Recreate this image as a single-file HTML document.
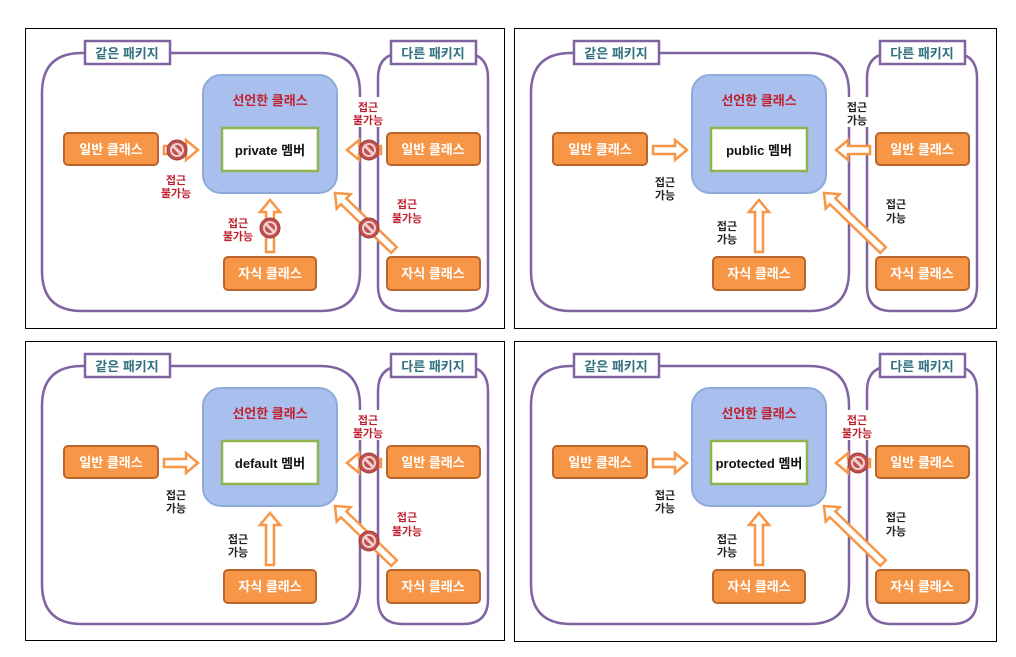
<!DOCTYPE html>
<html><head><meta charset="utf-8"><style>
body{margin:0;background:#fff;}
svg{display:block;font-family:"Liberation Sans","Noto Sans CJK KR",sans-serif;font-weight:bold;}
.frame{fill:none;stroke:#000;stroke-width:1}
.pkg{fill:#fff;stroke:#8064a2;stroke-width:2.5}
.lbl{fill:#fff;stroke:#8064a2;stroke-width:2.5}
.lt{fill:#31707f;font-size:13px;text-anchor:middle}
.dc{fill:#a9c0ef;stroke:#8eaadb;stroke-width:2}
.mb{fill:#fff;stroke:#8fb44f;stroke-width:2.5}
.ob{fill:#f79646;stroke:#b9652b;stroke-width:2}
.ot{fill:#fff;font-size:13px;text-anchor:middle}
.ar{fill:#fff;stroke:#f79646;stroke-width:2.5;stroke-linejoin:miter}
.red{fill:#c0212f;font-size:11px;text-anchor:middle}
.blk{fill:#222;font-size:11px;text-anchor:middle}
.tt{fill:#c0212f;font-size:13px;text-anchor:middle}
.mt{fill:#111;font-size:13px;text-anchor:middle}
</style></head><body>
<svg width="1016" height="657" viewBox="0 0 1016 657">
<defs>
<g id="no"><circle r="10" fill="#c0504d" stroke="#a23b38" stroke-width="1"/><circle r="6" fill="none" stroke="#f2d0cf" stroke-width="2"/><line x1="-4" y1="-4" x2="4" y2="4" stroke="#f2d0cf" stroke-width="3"/></g>
<g id="base">
<path class="pkg" d="M82,53 H320 Q360,53 360,93 V271 Q360,311 320,311 H82 Q42,311 42,271 V93 Q42,53 82,53 Z"/>
<rect class="lbl" x="85" y="41" width="85" height="23"/>
<text class="lt" x="127" y="58">같은 패키지</text>
<path class="pkg" d="M403,53 H463 Q488,53 488,78 V286 Q488,311 463,311 H403 Q378,311 378,286 V78 Q378,53 403,53 Z"/>
<rect class="lbl" x="391" y="41" width="85" height="23"/>
<text class="lt" x="433" y="58">다른 패키지</text>
<rect x="352" y="97" width="32" height="30" fill="#fff"/>
<rect class="dc" x="203" y="75" width="134" height="118" rx="18"/>
<text class="tt" x="270" y="105">선언한 클래스</text>
<rect class="mb" x="222" y="128" width="96" height="43"/>
<rect class="ob" x="64" y="133" width="94" height="32" rx="4"/>
<text class="ot" x="111" y="154">일반 클래스</text>
<rect class="ob" x="387" y="133" width="93" height="32" rx="4"/>
<text class="ot" x="433" y="154">일반 클래스</text>
<rect class="ob" x="224" y="257" width="92" height="33" rx="4"/>
<text class="ot" x="270" y="278">자식 클래스</text>
<rect class="ob" x="387" y="257" width="93" height="33" rx="4"/>
<text class="ot" x="433" y="278">자식 클래스</text>
<polygon class="ar" transform="translate(164,150)" points="0,-4 22,-4 22,-10 34,0 22,10 22,4 0,4"/>
<polygon class="ar" transform="translate(270,252) rotate(-90)" points="0,-4 40,-4 40,-10 52,0 40,10 40,4 0,4"/>
<polygon class="ar" transform="translate(381,150) rotate(180)" points="0,-4 22,-4 22,-10 34,0 22,10 22,4 0,4"/>
<polygon class="ar" transform="translate(394,250) rotate(-136)" points="0,-4 70,-4 70,-10 82,0 70,10 70,4 0,4"/>
</g>
</defs>

<rect class="frame" x="25.5" y="28.5" width="479" height="300"/>
<rect class="frame" x="514.5" y="28.5" width="482" height="300"/>
<rect class="frame" x="25.5" y="341.5" width="479" height="299"/>
<rect class="frame" x="514.5" y="341.5" width="482" height="300"/>

<g>
<use href="#base"/>
<text class="mt" x="270" y="155">private 멤버</text>
<use href="#no" x="177" y="150"/><use href="#no" x="369" y="150"/><use href="#no" x="270" y="228"/><use href="#no" x="369" y="228"/>
<text class="red" x="176" y="184">접근</text><text class="red" x="176" y="197">불가능</text>
<text class="red" x="368" y="111">접근</text><text class="red" x="368" y="124">불가능</text>
<text class="red" x="238" y="227">접근</text><text class="red" x="238" y="240">불가능</text>
<text class="red" x="407" y="208">접근</text><text class="red" x="407" y="222">불가능</text>
</g>

<g transform="translate(489,0)">
<use href="#base"/>
<text class="mt" x="270" y="155">public 멤버</text>
<text class="blk" x="176" y="186">접근</text><text class="blk" x="176" y="199">가능</text>
<text class="blk" x="368" y="111">접근</text><text class="blk" x="368" y="124">가능</text>
<text class="blk" x="238" y="230">접근</text><text class="blk" x="238" y="243">가능</text>
<text class="blk" x="407" y="208">접근</text><text class="blk" x="407" y="222">가능</text>
</g>

<g transform="translate(0,313)">
<use href="#base"/>
<text class="mt" x="270" y="155">default 멤버</text>
<use href="#no" x="369" y="150"/><use href="#no" x="369" y="228"/>
<text class="blk" x="176" y="186">접근</text><text class="blk" x="176" y="199">가능</text>
<text class="red" x="368" y="111">접근</text><text class="red" x="368" y="124">불가능</text>
<text class="blk" x="238" y="230">접근</text><text class="blk" x="238" y="243">가능</text>
<text class="red" x="407" y="208">접근</text><text class="red" x="407" y="222">불가능</text>
</g>

<g transform="translate(489,313)">
<use href="#base"/>
<text class="mt" x="270" y="155">protected 멤버</text>
<use href="#no" x="369" y="150"/>
<text class="blk" x="176" y="186">접근</text><text class="blk" x="176" y="199">가능</text>
<text class="red" x="368" y="111">접근</text><text class="red" x="368" y="124">불가능</text>
<text class="blk" x="238" y="230">접근</text><text class="blk" x="238" y="243">가능</text>
<text class="blk" x="407" y="208">접근</text><text class="blk" x="407" y="222">가능</text>
</g>
</svg>
</body></html>
